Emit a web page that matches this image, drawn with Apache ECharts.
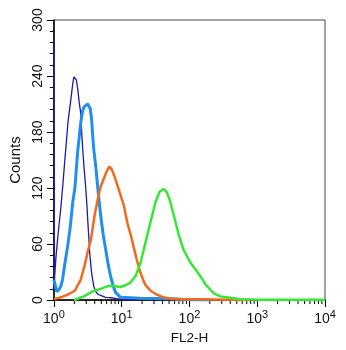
<!DOCTYPE html>
<html>
<head>
<meta charset="utf-8">
<style>
  html, body { margin: 0; padding: 0; background: #fff; }
  #chart { width: 346px; height: 350px; }
</style>
<script src="https://cdn.jsdelivr.net/npm/echarts@6/dist/echarts.min.js"></script>
</head>
<body>
<div id="chart"></div>
<script>
// histogram curves, [FL2-H value, counts]
const navyData = [
  [1, 277], [1.02, 22], [1.07, 45], [1.15, 70], [1.27, 100], [1.36, 125], [1.45, 150],
  [1.53, 170], [1.61, 190], [1.78, 215], [1.9, 232], [1.97, 239], [2.06, 238], [2.14, 236],
  [2.25, 226], [2.36, 212], [2.49, 200], [2.58, 178], [2.67, 160], [2.8, 140], [2.95, 120],
  [3.08, 100], [3.16, 85], [3.27, 68], [3.38, 50], [3.5, 38], [3.62, 28], [3.87, 15],
  [4.15, 9], [4.5, 6], [4.9, 5], [5.8, 3], [7, 2.5], [8.5, 1.5], [10, 1], [12, 0.5], [16, 0]
];
const lightBlueData = [
  [1, 22], [1.1, 9], [1.18, 11], [1.27, 15], [1.34, 22], [1.45, 39], [1.59, 57], [1.72, 75],
  [1.78, 85], [1.9, 105], [2.04, 120], [2.11, 134], [2.25, 160], [2.49, 190], [2.64, 202],
  [2.79, 207], [2.95, 208], [3.16, 210], [3.3, 209], [3.44, 205], [3.58, 195], [3.71, 180],
  [3.87, 162], [4.15, 143], [4.51, 115], [4.91, 90], [5.34, 70], [5.82, 54], [6.33, 38],
  [6.89, 25], [7.5, 15], [8.16, 8], [9.67, 3], [19, 2], [52.6, 1.5], [103, 0.5], [204, 0]
];
const orangeData = [
  [1, 1], [1.27, 3], [1.61, 6], [2.04, 10], [2.25, 16], [2.49, 22], [2.86, 38], [3.16, 52],
  [3.5, 64], [4.01, 92], [4.44, 108], [4.91, 122], [5.44, 130], [6.02, 138], [6.55, 143],
  [7.13, 140], [7.89, 132], [8.73, 122], [9.67, 112], [10.7, 102], [12.2, 82], [13.6, 70],
  [15, 57], [16.6, 44], [18.4, 32], [20.4, 23], [22.5, 16], [26.7, 10], [32.7, 6], [41.5, 3],
  [52.6, 1.5], [73.8, 1], [145, 1], [401, 0.5], [789, 0]
];
const greenData = [
  [1.97, 0], [2.33, 2], [2.76, 4], [3.27, 7], [3.87, 10], [4.91, 12], [6.22, 15], [7.62, 15],
  [9.67, 14], [11.5, 16], [13.6, 19], [16.1, 26], [19, 40], [22.5, 62], [26.7, 84], [31.6, 105],
  [36.2, 116], [41.5, 119], [45.9, 116], [50.8, 108], [58.2, 92], [68.9, 71], [81.6, 54],
  [103.5, 40], [131, 30], [150, 24], [172, 17], [204, 11], [233, 7], [286, 4], [401, 2.5],
  [562, 1], [1107, 0.5], [10000, 0.5]
];
// log minor tick positions on the x axis
const minorTicksX = [];
[1, 10, 100, 1000].forEach(function (d) {
  for (let m = 2; m <= 9; m++) minorTicksX.push([m * d, 0]);
});

const myChart = echarts.init(document.getElementById('chart'), null, { renderer: 'canvas' });

function curve(name, data, color, width) {
  return {
    name: name,
    type: 'line',
    data: data,
    showSymbol: false,
    symbol: 'none',
    lineStyle: { color: color, width: width },
    silent: true
  };
}

const option = {
  animation: false,
  backgroundColor: '#fff',
  grid: {
    left: 52, right: 21, top: 20, bottom: 46,
    show: true, borderColor: '#444', borderWidth: 1
  },
  xAxis: {
    type: 'log',
    logBase: 10,
    min: 1,
    max: 10000,
    name: 'FL2-H',
    nameLocation: 'middle',
    nameGap: 27,
    nameTextStyle: { color: '#111', fontSize: 13.5, fontFamily: 'Liberation Sans' },
    axisLine: { lineStyle: { color: '#000', width: 1.5 } },
    axisTick: { length: 7, lineStyle: { color: '#000', width: 1 } },
    splitLine: { show: false },
    axisLabel: {
      margin: 9,
      formatter: function (v) {
        return '{b|10}{s|' + Math.round(Math.log10(v)) + '}';
      },
      rich: {
        b: { fontSize: 14, color: '#111', fontFamily: 'Liberation Sans', verticalAlign: 'bottom' },
        s: { fontSize: 11, color: '#111', fontFamily: 'Liberation Sans', verticalAlign: 'bottom', padding: [0, 0, 6, 0] }
      }
    }
  },
  yAxis: {
    type: 'value',
    min: 0,
    max: 300,
    interval: 60,
    name: 'Counts',
    nameLocation: 'middle',
    nameRotate: 90,
    nameGap: 22,
    nameTextStyle: { color: '#111', fontSize: 15, fontFamily: 'Liberation Sans' },
    axisLine: { show: true, lineStyle: { color: '#000', width: 1.5 } },
    axisTick: { show: true, length: 7, lineStyle: { color: '#000', width: 1 } },
    minorTick: { show: true, splitNumber: 5, length: 4, lineStyle: { color: '#000', width: 1 } },
    splitLine: { show: false },
    axisLabel: { rotate: 90, margin: 9, fontSize: 14, color: '#111', fontFamily: 'Liberation Sans' }
  },
  series: [
    curve('navy', navyData, '#1c1ca8', 1.3),
    curve('lightblue', lightBlueData, '#1f90f0', 3),
    curve('orange', orangeData, '#f26a1b', 2.5),
    curve('green', greenData, '#35e835', 2.5),
    {
      type: 'custom',
      silent: true,
      data: minorTicksX,
      renderItem: function (params, api) {
        const p = api.coord([api.value(0), 0]);
        return {
          type: 'line',
          shape: { x1: p[0], y1: p[1], x2: p[0], y2: p[1] + 4 },
          style: { stroke: '#000', lineWidth: 1 }
        };
      }
    }
  ]
};
myChart.setOption(option);
</script>
</body>
</html>
